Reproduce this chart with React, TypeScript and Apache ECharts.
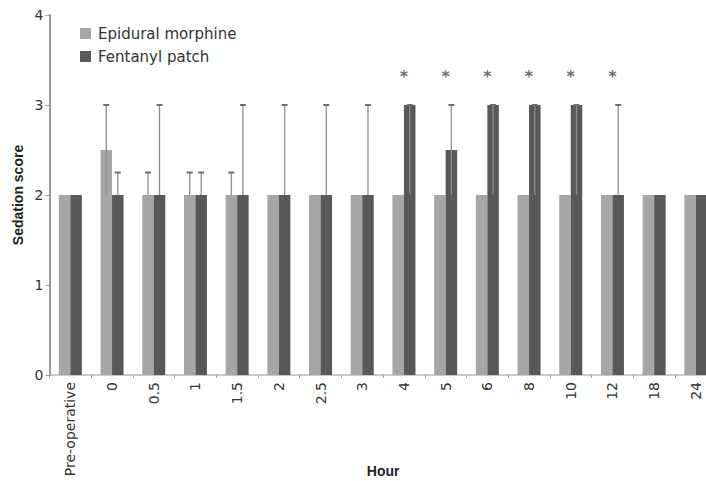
import React, { useEffect, useRef } from "react";
import * as echarts from "echarts";

const categories = ["Pre-operative", "0", "0.5", "1", "1.5", "2", "2.5", "3", "4", "5", "6", "8", "10", "12", "18", "24"];
const epiduralValues = [2, 2.5, 2, 2, 2, 2, 2, 2, 2, 2, 2, 2, 2, 2, 2, 2];
const fentanylValues = [2, 2, 2, 2, 2, 2, 2, 2, 3, 2.5, 3, 3, 3, 2, 2, 2];
const epiduralLow: (number | null)[] = [null, 2, 2, 2, 2, null, null, null, null, null, null, null, null, null, null, null];
const epiduralHigh: (number | null)[] = [null, 3, 2.25, 2.25, 2.25, null, null, null, null, null, null, null, null, null, null, null];
const fentanylLow: (number | null)[] = [null, 2, 2, 2, 2, 2, 2, 2, 2, 2, 2, 2, 2, 2, null, null];
const fentanylHigh: (number | null)[] = [null, 2.25, 3, 2.25, 3, 3, 3, 3, 3, 3, 3, 3, 3, 3, null, null];
const significantCategories = ["4", "5", "6", "8", "10", "12"];
const significanceLevel = 3.35;
const yTicks = [0, 1, 2, 3, 4];

const LIGHT = "#a6a6a8";
const DARK = "#58585b";
const BAR_W = 11.5;

function errorData(low: (number | null)[], high: (number | null)[]) {
  const out: number[][] = [];
  low.forEach((l, i) => {
    const h = high[i];
    if (l != null && h != null) out.push([i, l, h]);
  });
  return out;
}

function makeErrorSeries(name: string, low: (number | null)[], high: (number | null)[], offset: number) {
  return {
    type: "custom",
    name: name + " range",
    data: errorData(low, high),
    z: 5,
    silent: true,
    renderItem: (params: any, api: any) => {
      const x = api.value(0);
      const lo = api.coord([x, api.value(1)]);
      const hi = api.coord([x, api.value(2)]);
      const cx = lo[0] + offset;
      return {
        type: "group",
        children: [
          {
            type: "line",
            shape: { x1: cx, y1: lo[1], x2: cx, y2: hi[1] },
            style: { stroke: "#8e8e90", lineWidth: 1.3 },
          },
          {
            type: "line",
            shape: { x1: cx - 3, y1: hi[1], x2: cx + 3, y2: hi[1] },
            style: { stroke: "#6e6e70", lineWidth: 2 },
          },
        ],
      };
    },
  };
}

export default function App() {
  const ref = useRef<HTMLDivElement>(null);
  useEffect(() => {
    if (!ref.current) return;
    const chart = echarts.init(ref.current, null, { renderer: "svg" });
    chart.setOption({
      animation: false,
      backgroundColor: "#ffffff",
      textStyle: { fontFamily: "DejaVu Sans" },
      legend: {
        left: 80,
        top: 26,
        padding: 0,
        orient: "vertical",
        itemWidth: 11,
        itemHeight: 11,
        itemGap: 8,
        icon: "rect",
        data: ["Epidural morphine", "Fentanyl patch"],
        textStyle: { fontFamily: "DejaVu Sans", fontSize: 15, color: "#333", lineHeight: 15, padding: [0, 0, 0, 2] },
      },
      grid: { left: 49.5, top: 15, bottom: 106, right: -10.7, outerBoundsMode: "none", containLabel: false },
      xAxis: {
        type: "category",
        data: categories,
        name: "Hour",
        nameLocation: "middle",
        nameGap: 89,
        nameMoveOverlap: false,
        nameTextStyle: { fontFamily: "Liberation Sans", fontWeight: "bold", fontSize: 14, color: "#222" },
        axisLine: { lineStyle: { color: "#b8b8b8", width: 1.5 } },
        axisTick: { show: true, alignWithLabel: false, length: 3, lineStyle: { color: "#a0a0a0" } },
        axisLabel: { rotate: 90, fontSize: 14, color: "#333", margin: 7, interval: 0 },
        splitLine: { show: false },
      },
      yAxis: {
        type: "value",
        min: yTicks[0],
        max: yTicks[yTicks.length - 1],
        interval: 1,
        name: "Sedation score",
        nameLocation: "middle",
        nameGap: 25,
        nameMoveOverlap: false,
        nameTextStyle: { fontFamily: "Liberation Sans", fontWeight: "bold", fontSize: 14, color: "#222" },
        axisLine: { show: true, lineStyle: { color: "#9a9a9a", width: 2 } },
        axisTick: { show: true, length: 4, lineStyle: { color: "#9a9a9a" } },
        axisLabel: { fontSize: 14, color: "#333", margin: 6 },
        splitLine: { show: false },
      },
      series: [
        {
          type: "bar",
          name: "Epidural morphine",
          data: epiduralValues,
          barWidth: BAR_W,
          barGap: "0%",
          itemStyle: { color: LIGHT },
        },
        {
          type: "bar",
          name: "Fentanyl patch",
          data: fentanylValues,
          barWidth: BAR_W,
          barGap: "0%",
          itemStyle: { color: DARK },
        },
        makeErrorSeries("Epidural morphine", epiduralLow, epiduralHigh, -BAR_W / 2),
        makeErrorSeries("Fentanyl patch", fentanylLow, fentanylHigh, BAR_W / 2),
        {
          type: "scatter",
          name: "significance",
          data: significantCategories.map((c) => [c, significanceLevel]),
          symbolSize: 0,
          silent: true,
          label: {
            show: true,
            formatter: "*",
            position: "inside",
            fontFamily: "DejaVu Sans",
            fontWeight: "bold",
            fontSize: 16,
            color: "#444",
            offset: [0, 3],
          },
        },
      ],
    });
    return () => chart.dispose();
  }, []);
  return <div ref={ref} style={{ position: "fixed", left: 0, top: 0, width: 706, height: 481 }} />;
}
